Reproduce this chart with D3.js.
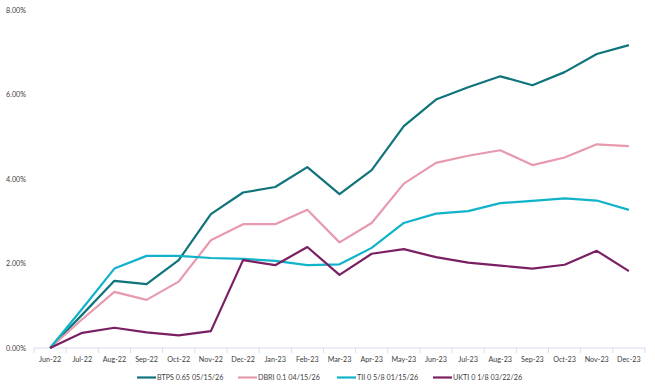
<!DOCTYPE html>
<html><head><meta charset="utf-8">
<script src="https://cdn.jsdelivr.net/npm/d3@7"></script>
<style>body{margin:0;background:#fff}svg{display:block}text{font-family:Lato,"Open Sans",sans-serif;fill:#404040}</style>
</head><body><div id="c"></div>
<script>
const categories = ["Jun-22","Jul-22","Aug-22","Sep-22","Oct-22","Nov-22","Dec-22","Jan-23","Feb-23","Mar-23","Apr-23","May-23","Jun-23","Jul-23","Aug-23","Sep-23","Oct-23","Nov-23","Dec-23"];
const btps = [0,0.79,1.59,1.51,2.08,3.17,3.68,3.81,4.28,3.64,4.21,5.25,5.88,6.17,6.43,6.22,6.53,6.96,7.17];
const dbri = [0,0.68,1.33,1.14,1.57,2.55,2.93,2.93,3.27,2.50,2.96,3.89,4.38,4.55,4.68,4.33,4.51,4.82,4.78];
const tii  = [0,0.93,1.88,2.18,2.18,2.13,2.11,2.06,1.96,1.98,2.37,2.96,3.18,3.24,3.43,3.48,3.54,3.49,3.27];
const ukti = [0,0.36,0.48,0.37,0.30,0.40,2.08,1.96,2.39,1.73,2.23,2.34,2.15,2.02,1.95,1.88,1.97,2.30,1.82];
const seriesNames = ["BTPS 0.65 05/15/26","DBRI 0.1 04/15/26","TII 0 5/8 01/15/26","UKTI 0 1/8 03/22/26"];
const yTicks = [0,2,4,6,8];

const colors = ["#0f747b","#e79aae","#10b3c9","#7b1f63"];
const series = [btps,dbri,tii,ukti];
const W=655,H=391,FS="7.2px";
const svg=d3.select("#c").append("svg").attr("width",W).attr("height",H);
const x=d3.scaleBand().domain(categories).range([34,645]);
const y=d3.scaleLinear().domain([0,8]).range([348,10]);

// y labels
svg.append("g").selectAll("text").data(yTicks).join("text")
  .attr("x",26).attr("y",d=>y(d)).attr("dy","0.35em").attr("text-anchor","end")
  .style("font-size",FS).text(d=>d.toFixed(2)+"%");

// x axis
const xa=svg.append("g").attr("transform","translate(0,348)");
xa.append("line").attr("x1",34).attr("x2",645).attr("stroke","#d9d9f2").attr("stroke-width",1);
const bounds=categories.map(c=>x(c)).concat([645]);
xa.selectAll("line.t").data(bounds).join("line").attr("class","t")
  .attr("x1",d=>d).attr("x2",d=>d).attr("y1",0).attr("y2",5).attr("stroke","#d9d9f2");
xa.selectAll("text").data(categories).join("text")
  .attr("x",d=>x(d)+x.bandwidth()/2).attr("y",11.5).attr("dy","0.35em").attr("text-anchor","middle")
  .style("font-size",FS).text(d=>d);

const line=d3.line().x((d,i)=>x(categories[i])+x.bandwidth()/2).y(d=>y(d));
series.forEach((s,k)=>{
  svg.append("path").datum(s).attr("d",line).attr("fill","none")
    .attr("stroke",colors[k]).attr("stroke-width",2.2).attr("stroke-linejoin","round");
});

// legend
const lx=[137,238,337,433];
const lg=svg.append("g").attr("transform","translate(0,377.5)");
seriesNames.forEach((n,k)=>{
  lg.append("line").attr("x1",lx[k]).attr("x2",lx[k]+19).attr("y1",0).attr("y2",0)
    .attr("stroke",colors[k]).attr("stroke-width",2.2);
  lg.append("text").attr("x",lx[k]+20).attr("y",0).attr("dy","0.35em")
    .style("font-size",FS).text(n);
});
</script></body></html>
